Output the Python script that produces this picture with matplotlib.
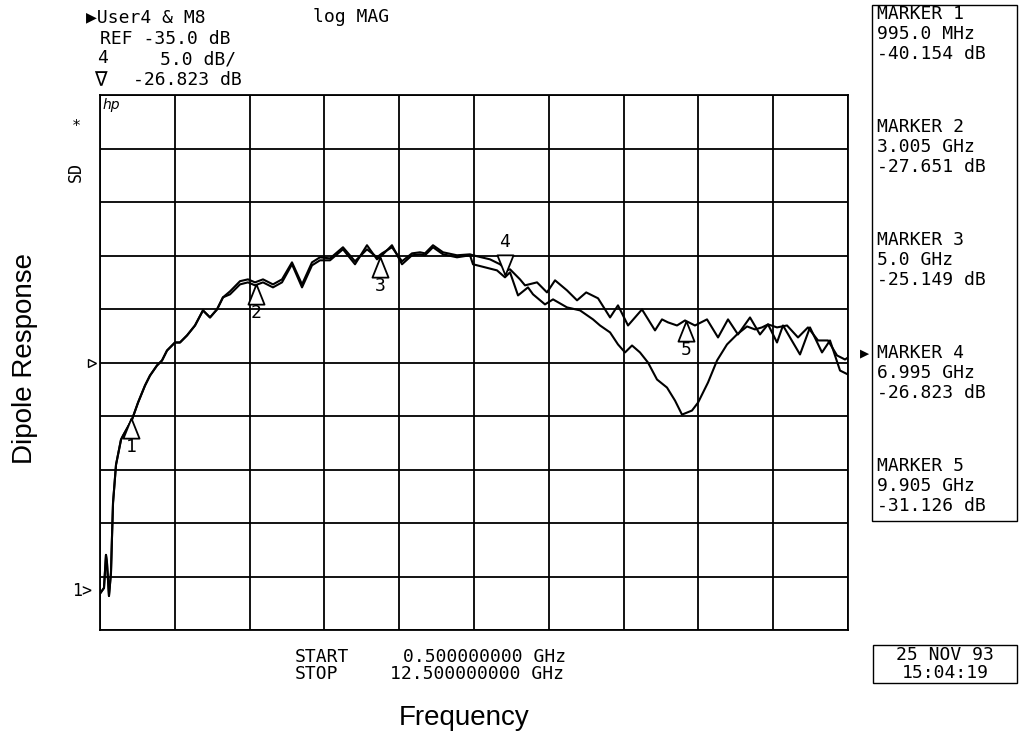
import matplotlib
matplotlib.use("Agg")
import matplotlib.pyplot as plt
import numpy as np

# trace values (GHz, dB)
freq_common = [0.500, 0.564, 0.596, 0.612, 0.644, 0.676, 0.693, 0.709, 0.757, 0.837,
               0.869, 1.013, 1.110, 1.222, 1.302, 1.414, 1.495, 1.575, 1.703, 1.783,
               1.896, 2.024, 2.152, 2.265, 2.377, 2.473, 2.586, 2.746, 2.874, 2.987,
               3.115, 3.275, 3.420, 3.580, 3.741, 3.901, 4.029, 4.190, 4.398, 4.591,
               4.783, 4.944, 5.024, 5.184, 5.345, 5.505, 5.634, 5.714, 5.842, 6.003,
               6.227, 6.436]
db_common_a = [-56.60, -56.07, -52.98, -53.73, -56.82, -54.66, -51.20, -48.11, -44.55, -42.21,
               -41.84, -40.34, -38.75, -37.15, -36.22, -35.28, -34.81, -33.88, -33.13, -33.13,
               -32.47, -31.54, -30.13, -30.79, -30.04, -28.91, -28.63, -27.70, -27.51, -27.79,
               -27.51, -27.98, -27.51, -25.82, -27.98, -25.92, -25.45, -25.45, -24.42, -25.82,
               -24.04, -25.36, -24.98, -24.04, -25.82, -24.98, -24.89, -24.98, -24.23, -24.89,
               -25.17, -24.98]
db_common_b = [-56.60, -56.07, -52.98, -53.73, -56.82, -54.66, -51.20, -48.11, -44.55, -42.21,
               -41.84, -40.34, -38.75, -37.15, -36.22, -35.28, -34.81, -33.88, -33.13, -33.13,
               -32.47, -31.54, -30.13, -30.79, -30.04, -28.91, -28.35, -27.40, -27.23, -27.51,
               -27.23, -27.70, -27.23, -25.64, -27.70, -25.64, -25.17, -25.27, -24.23, -25.54,
               -24.42, -25.17, -24.80, -24.23, -25.54, -24.80, -24.70, -24.80, -24.04, -24.70,
               -24.98, -24.89]

# after ~6.5 GHz the two traces split
freq_tail_a = [6.484, 6.869, 6.997, 7.078, 7.206, 7.366, 7.447, 7.639, 7.768, 7.992,
               8.201, 8.409, 8.522, 8.683, 8.810, 8.923, 9.035, 9.163, 9.291, 9.436,
               9.596, 9.725, 9.837, 9.997, 10.094, 10.254, 10.399, 10.559, 10.719, 10.880,
               11.008, 11.120, 11.217, 11.361, 11.457, 11.730, 11.890, 12.083, 12.211, 12.372,
               12.500]
db_tail_a = [-25.82, -26.39, -27.04, -26.57, -28.73, -27.98, -28.63, -29.57, -29.10, -29.85,
             -30.13, -30.97, -31.54, -32.19, -33.31, -34.06, -33.41, -34.06, -35.00, -36.59,
             -37.34, -38.56, -39.87, -39.49, -38.75, -36.87, -34.81, -33.31, -32.38, -31.63,
             -31.91, -31.72, -31.44, -33.13, -31.54, -34.25, -31.72, -34.06, -32.94, -35.75,
             -36.12]
freq_tail_b = [6.484, 6.757, 6.917, 7.030, 7.078, 7.238, 7.318, 7.511, 7.671, 7.800,
               7.992, 8.153, 8.300, 8.490, 8.683, 8.810, 8.971, 9.195, 9.404, 9.516, 9.612,
               9.757, 9.885, 10.045, 10.238, 10.415, 10.575, 10.735, 10.928, 11.088, 11.217,
               11.361, 11.522, 11.698, 11.858, 12.019, 12.179, 12.324, 12.452, 12.500]
db_tail_b = [-24.98, -25.36, -25.82, -26.39, -26.29, -27.23, -27.79, -27.51, -28.45, -27.32,
             -28.26, -29.19, -28.45, -29.00, -30.79, -29.66, -31.54, -30.04, -32.00, -30.97, -31.25,
             -31.54, -31.07, -31.54, -30.97, -32.66, -30.97, -32.38, -30.79, -32.38, -31.44,
             -31.72, -31.54, -32.66, -31.72, -32.94, -32.94, -34.34, -34.72, -34.53]

# markers from the readout panel
marker_ids = ["1", "2", "3", "4", "5"]
marker_freq = [0.995, 3.005, 5.0, 6.995, 9.905]
marker_db = [-40.154, -27.651, -25.149, -26.823, -31.126]
marker_freq_txt = ["995.0 MHz", "3.005 GHz", "5.0 GHz", "6.995 GHz", "9.905 GHz"]
marker_db_txt = ["-40.154 dB", "-27.651 dB", "-25.149 dB", "-26.823 dB", "-31.126 dB"]
active_marker = 3

ref_level = -35.0
scale_db = 5.0
f_start, f_stop = 0.5, 12.5

W, H = 1020, 736
fig = plt.figure(figsize=(W / 100, H / 100), dpi=100)
fig.patch.set_facecolor("white")

def fx(px):
    return px / W

def fy(py):
    return 1 - py / H

hp_font = ["DejaVu Sans Mono", "DejaVu Sans"]
hp_size = 13

ax = fig.add_axes([fx(100), fy(630), (848 - 100) / W, (630 - 95) / H])
ax.set_xlim(f_start, f_stop)
ax.set_ylim(ref_level - 5 * scale_db, ref_level + 5 * scale_db)
ax.set_xticks(np.linspace(f_start, f_stop, 11))
ax.set_yticks(np.linspace(ref_level - 5 * scale_db, ref_level + 5 * scale_db, 11))
ax.tick_params(length=0, labelbottom=False, labelleft=False)
ax.grid(True, color="black", linewidth=1.3)
for sp in ax.spines.values():
    sp.set_linewidth(1.3)

trace_a_f = np.concatenate([freq_common, freq_tail_a])
trace_a_db = np.concatenate([db_common_a, db_tail_a])
trace_b_f = np.concatenate([freq_common, freq_tail_b])
trace_b_db = np.concatenate([db_common_b, db_tail_b])
ax.plot(trace_a_f, trace_a_db, color="black", linewidth=1.5)
ax.plot(trace_b_f, trace_b_db, color="black", linewidth=1.5)

# marker triangles, tip on the trace
up_tri = [(0, 0), (-0.4, -1), (0.4, -1), (0, 0)]
down_tri = [(0, 0), (-0.4, 1), (0.4, 1), (0, 0)]
for i, (f, d) in enumerate(zip(marker_freq, marker_db)):
    if i == active_marker:
        ax.plot(f, d, marker=down_tri, markersize=29, markerfacecolor="white",
                markeredgecolor="black", markeredgewidth=1.3, zorder=5)
        ax.annotate(marker_ids[i], (f, d), xytext=(0, 24), textcoords="offset points",
                    ha="center", va="center", family=hp_font, fontsize=hp_size)
    else:
        ax.plot(f, d, marker=up_tri, markersize=29, markerfacecolor="white",
                markeredgecolor="black", markeredgewidth=1.3, zorder=5)
        ax.annotate(marker_ids[i], (f, d), xytext=(0, -21), textcoords="offset points",
                    ha="center", va="center", family=hp_font, fontsize=hp_size)

# reference position arrow on the left edge
ax.plot(f_start - 0.13, ref_level, marker=">", markersize=6, markerfacecolor="white",
        markeredgecolor="black", clip_on=False)
ax.text(0.004, 0.995, "hp", transform=ax.transAxes, ha="left", va="top",
        fontsize=10, style="italic")

# header
fig.text(fx(86), fy(17), "\u25b6User4 & M8", family=hp_font, fontsize=hp_size, va="center")
fig.text(fx(313), fy(17), "log MAG", family=hp_font, fontsize=hp_size, va="center")
fig.text(fx(100), fy(39), "REF -35.0 dB", family=hp_font, fontsize=hp_size, va="center")
fig.text(fx(97), fy(58), "4", family=hp_font, fontsize=hp_size, va="center")
fig.text(fx(160), fy(60), "5.0 dB/", family=hp_font, fontsize=hp_size, va="center")
fig.text(fx(94), fy(80), "\u2207", family=hp_font, fontsize=hp_size + 2, va="center")
fig.text(fx(133), fy(80), "-26.823 dB", family=hp_font, fontsize=hp_size, va="center")

fig.text(fx(76), fy(126), "*", family=hp_font, fontsize=11, ha="center", va="center")
fig.text(fx(76), fy(172), "SD", family=hp_font, fontsize=12, ha="center", va="center",
         rotation=90)
fig.text(fx(92), fy(591), "1>", family=hp_font, fontsize=12, ha="right", va="center")

# marker readout panel
fig.patches.append(plt.Rectangle((fx(872), fy(521)), (1017 - 872) / W, (521 - 5) / H,
                                 transform=fig.transFigure, fill=False,
                                 edgecolor="black", linewidth=1.0))
for i in range(5):
    y0 = 14 + 113 * i
    fig.text(fx(877), fy(y0), "MARKER " + marker_ids[i], family=hp_font,
             fontsize=hp_size, va="center")
    fig.text(fx(877), fy(y0 + 20), marker_freq_txt[i], family=hp_font,
             fontsize=hp_size, va="center")
    fig.text(fx(877), fy(y0 + 40), marker_db_txt[i], family=hp_font,
             fontsize=hp_size, va="center")
    if i == active_marker:
        fig.text(fx(860), fy(y0), "\u25b6", family=hp_font, fontsize=11, va="center")

# start / stop and timestamp
fig.text(fx(295), fy(657), "START", family=hp_font, fontsize=hp_size, va="center")
fig.text(fx(403), fy(657), "0.500000000 GHz", family=hp_font, fontsize=hp_size, va="center")
fig.text(fx(295), fy(674), "STOP", family=hp_font, fontsize=hp_size, va="center")
fig.text(fx(390), fy(674), "12.500000000 GHz", family=hp_font, fontsize=hp_size, va="center")

fig.patches.append(plt.Rectangle((fx(873), fy(683)), (1017 - 873) / W, (683 - 645) / H,
                                 transform=fig.transFigure, fill=False,
                                 edgecolor="black", linewidth=1.0))
fig.text(fx(945), fy(655), "25 NOV 93", family=hp_font, fontsize=hp_size,
         ha="center", va="center")
fig.text(fx(945), fy(673), "15:04:19", family=hp_font, fontsize=hp_size,
         ha="center", va="center")

# axis labels
fig.text(fx(464), fy(718), "Frequency", family="Liberation Sans", fontsize=20,
         ha="center", va="center")
fig.text(fx(25), fy(358), "Dipole Response", family="Liberation Sans", fontsize=20,
         ha="center", va="center", rotation=90)

fig.savefig("out.png", dpi=100)
